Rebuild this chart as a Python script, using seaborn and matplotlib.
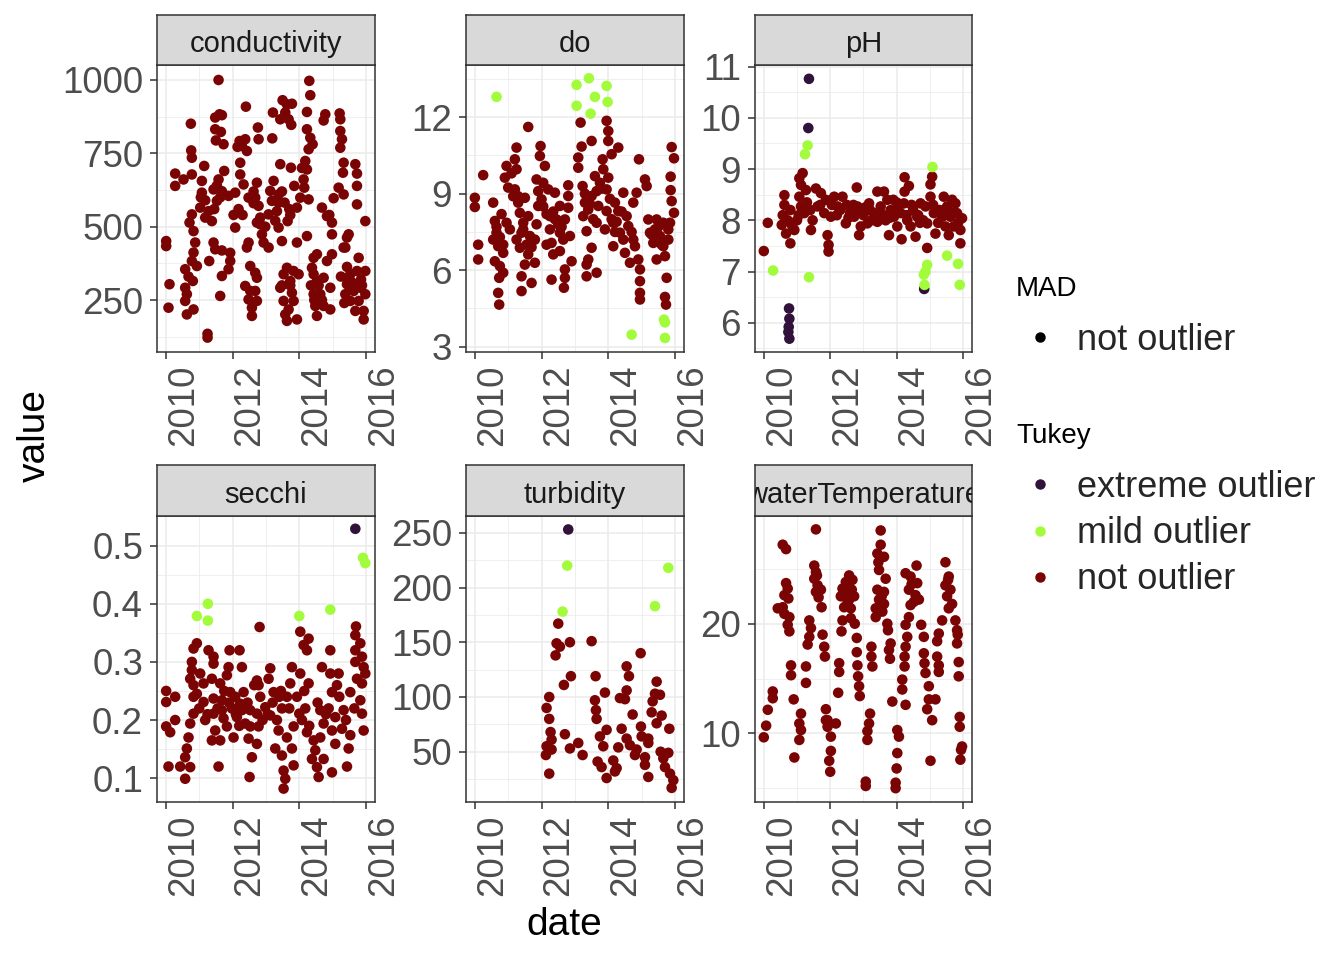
import matplotlib
matplotlib.use("Agg")
import matplotlib.pyplot as plt
import numpy as np
import pandas as pd
import seaborn as sns
from matplotlib.lines import Line2D

sns.set_style("white")
plt.rcParams["font.family"] = ["Liberation Sans", "DejaVu Sans"]

# ---------------- data ----------------
tukey_levels = ["extreme outlier", "mild outlier", "not outlier"]
tukey_colors = ["#30123B", "#A2FC3C", "#7A0403"]
mad_levels = ["not outlier"]
x_ticks = [2010, 2012, 2014, 2016]
x_minor = [2011, 2013, 2015]

cond_date = [
    2011.58, 2014.30, 2014.33, 2012.40, 2013.50, 2013.63, 2013.78, 2013.58, 2013.43, 2013.68,
    2013.76, 2013.21, 2014.23, 2014.78, 2014.73, 2015.21, 2015.23, 2010.75, 2011.61, 2011.68,
    2011.48, 2011.48, 2011.65, 2011.50, 2011.73, 2012.21, 2012.38, 2012.28, 2012.43, 2012.15,
    2012.76, 2012.78, 2013.19, 2014.23, 2014.33, 2014.40, 2014.28, 2015.23, 2015.28, 2015.23,
    2010.76, 2010.78, 2011.15, 2010.28, 2010.28, 2010.53, 2010.78, 2011.08, 2011.08, 2011.75,
    2011.58, 2011.43, 2011.68, 2011.53, 2011.88, 2012.23, 2012.23, 2012.33, 2012.08, 2012.48,
    2012.73, 2012.68, 2012.78, 2013.23, 2013.13, 2013.18, 2013.38, 2013.56, 2013.33, 2013.08,
    2013.43, 2013.75, 2014.18, 2014.23, 2014.13, 2014.15, 2013.93, 2014.03, 2014.28, 2013.85,
    2012.83, 2012.83, 2012.73, 2013.65, 2013.38, 2013.48, 2012.08, 2015.33, 2015.31, 2015.68,
    2015.73, 2015.73, 2015.73, 2015.18, 2015.33, 2015.03, 2014.68, 2014.83, 2014.98, 2014.98,
    2015.98, 2015.48, 2015.38, 2010.78, 2010.83, 2011.03, 2011.18, 2011.38, 2011.28, 2010.71,
    2010.88, 2010.83, 2010.78, 2010.93, 2010.58, 2011.43, 2011.48, 2011.68, 2011.93, 2011.93,
    2011.88, 2011.68, 2011.30, 2012.48, 2012.43, 2012.88, 2012.93, 2013.08, 2013.93, 2014.23,
    2014.43, 2014.53, 2014.83, 2014.98, 2015.43, 2015.33, 2015.78, 2010.01, 2010.01, 2010.11,
    2010.08, 2010.58, 2010.63, 2010.58, 2010.63, 2010.83, 2010.81, 2011.25, 2011.25, 2011.63,
    2012.53, 2012.68, 2012.73, 2012.38, 2012.53, 2012.68, 2012.48, 2012.73, 2012.58, 2012.58,
    2013.63, 2013.53, 2013.83, 2013.98, 2013.43, 2013.73, 2013.78, 2013.53, 2013.83, 2013.58,
    2013.93, 2013.63, 2013.68, 2014.43, 2014.53, 2014.73, 2014.93, 2014.43, 2014.63, 2014.48,
    2014.73, 2014.93, 2014.53, 2015.43, 2015.53, 2015.73, 2015.98, 2015.43, 2015.63, 2015.83,
    2015.53, 2015.78, 2015.98, 2015.68, 2015.93, 2015.93, 2015.38, 2011.53, 2011.63, 2012.18,
    2012.30, 2013.48, 2013.70, 2014.35, 2014.45, 2015.25, 2015.35, 2011.05, 2011.18, 2011.45,
    2012.03, 2012.63, 2012.98, 2013.28, 2013.73, 2014.08, 2014.90, 2015.58, 2015.88, 2010.68,
    2013.48, 2013.73, 2014.58, 2014.68, 2015.58, 2015.85, 2012.63, 2013.38, 2014.38, 2015.50,
]
cond_value = [
    1000, 997, 948, 909, 931, 917, 919, 889, 866, 866,
    847, 889, 891, 883, 862, 886, 866, 851, 883, 880,
    872, 832, 823, 794, 781, 792, 798, 775, 758, 772,
    838, 798, 801, 832, 803, 781, 764, 826, 798, 769,
    760, 735, 707, 681, 639, 661, 678, 656, 616, 690,
    661, 627, 621, 588, 605, 718, 678, 644, 616, 599,
    650, 599, 571, 656, 622, 588, 582, 582, 553, 542,
    713, 701, 724, 695, 661, 633, 565, 599, 593, 639,
    531, 508, 514, 519, 497, 451, 497, 718, 684, 713,
    681, 639, 576, 633, 610, 597, 565, 536, 514, 474,
    519, 474, 429, 542, 485, 565, 531, 519, 553, 514,
    446, 412, 383, 366, 355, 446, 423, 419, 411, 383,
    355, 332, 383, 446, 429, 474, 446, 429, 446, 468,
    394, 406, 383, 406, 463, 429, 394, 451, 434, 304,
    224, 292, 270, 247, 201, 218, 315, 135, 122, 264,
    366, 343, 326, 298, 281, 281, 252, 247, 224, 196,
    360, 338, 349, 338, 292, 315, 275, 247, 247, 201,
    184, 179, 218, 338, 315, 326, 292, 270, 270, 230,
    230, 218, 196, 363, 338, 349, 349, 304, 281, 292,
    247, 247, 270, 213, 213, 184, 270, 640, 600, 560,
    540, 620, 560, 300, 250, 330, 240, 600, 590, 560,
    540, 580, 500, 520, 540, 700, 540, 310, 300, 330,
    300, 300, 300, 250, 290, 320, 620, 610, 360, 320,
]

do_mild_date = [2010.65, 2013.05, 2013.42, 2013.95, 2013.05, 2013.60, 2013.98, 2013.47, 2014.70, 2015.67, 2015.70, 2015.70]
do_mild_value = [12.8, 13.27, 13.53, 13.23, 12.45, 12.8, 12.6, 12.14, 3.47, 4.06, 3.95, 3.34]
do_date = [
    2010.00, 2010.00, 2010.10, 2010.10, 2010.25, 2010.55, 2010.60, 2010.65, 2010.55, 2010.70,
    2010.60, 2010.75, 2010.85, 2010.80, 2010.95, 2011.05, 2010.85, 2010.73, 2010.70, 2010.73,
    2010.95, 2011.20, 2010.90, 2011.25, 2011.00, 2011.20, 2011.25, 2011.30, 2011.50, 2011.35,
    2011.60, 2011.45, 2011.85, 2011.40, 2011.65, 2011.80, 2011.35, 2011.60, 2011.50, 2011.80,
    2011.40, 2011.70, 2011.40, 2011.60, 2011.97, 2011.95, 2012.10, 2011.85, 2012.05, 2011.90,
    2012.20, 2012.00, 2012.40, 2011.90, 2012.25, 2012.55, 2012.45, 2012.70, 2012.80, 2012.80,
    2012.80, 2012.25, 2012.55, 2012.85, 2012.30, 2012.55, 2012.35, 2012.90, 2012.70, 2012.70,
    2012.30, 2012.67, 2013.17, 2013.50, 2013.20, 2013.10, 2013.10, 2013.23, 2013.30, 2013.25,
    2013.40, 2013.60, 2013.65, 2013.50, 2013.70, 2013.65, 2013.35, 2013.50, 2013.40, 2013.35,
    2013.35, 2013.65, 2013.95, 2013.95, 2014.00, 2014.00, 2014.30, 2014.10, 2013.83, 2013.85,
    2014.00, 2013.75, 2013.95, 2014.20, 2014.45, 2014.30, 2014.55, 2014.15, 2014.60, 2014.35,
    2014.15, 2014.75, 2014.50, 2014.80, 2014.65, 2014.90, 2014.95, 2014.95, 2014.95, 2014.95,
    2014.92, 2015.10, 2015.15, 2014.85, 2014.75, 2015.20, 2015.45, 2015.65, 2015.25, 2015.55,
    2015.80, 2015.35, 2015.65, 2015.45, 2015.70, 2015.75, 2015.70, 2015.73, 2015.90, 2015.97,
    2015.87, 2015.87, 2015.90, 2015.97, 2015.85, 2010.65, 2010.75, 2010.85, 2011.10, 2011.15,
    2011.25, 2011.45, 2011.55, 2011.70, 2012.05, 2012.15, 2012.35, 2012.40, 2012.50, 2012.60,
    2012.65, 2013.30, 2013.45, 2013.55, 2013.80, 2014.05, 2014.10, 2014.25, 2014.40, 2014.45,
    2014.70, 2015.30, 2015.40, 2015.50, 2015.60, 2015.80, 2014.20, 2012.15, 2011.30, 2013.90,
]
do_value = [
    8.84, 8.48, 7.0, 6.42, 9.73, 8.65, 7.93, 7.47, 7.2, 6.94,
    6.35, 6.16, 5.9, 8.2, 7.86, 7.6, 6.68, 5.7, 5.11, 4.65,
    10.09, 10.35, 9.63, 9.96, 9.24, 9.17, 10.81, 8.65, 8.84, 8.25,
    8.12, 7.86, 7.8, 7.47, 7.34, 7.2, 6.88, 6.62, 6.22, 6.29,
    5.76, 5.5, 5.18, 11.62, 10.87, 10.48, 10.09, 9.56, 9.43, 9.1,
    9.17, 8.78, 9.04, 8.52, 8.12, 8.52, 7.99, 7.99, 8.45, 8.91,
    9.33, 7.6, 7.47, 7.34, 7.07, 6.75, 6.62, 6.35, 6.03, 5.7,
    5.63, 5.31, 11.79, 11.07, 10.85, 10.42, 10.02, 9.3, 8.65, 8.12,
    8.38, 9.69, 9.1, 8.91, 8.52, 7.86, 7.53, 6.88, 6.42, 6.22,
    5.76, 5.9, 8.32, 11.86, 11.46, 11.07, 10.81, 10.55, 10.35, 9.96,
    9.63, 9.43, 9.17, 8.65, 9.04, 8.32, 8.12, 7.86, 7.73, 7.47,
    6.94, 7.2, 6.68, 6.94, 6.29, 6.42, 6.03, 5.57, 5.11, 4.85,
    10.35, 9.56, 9.3, 9.04, 8.65, 7.99, 7.99, 7.86, 7.47, 7.34,
    7.2, 7.07, 6.94, 6.42, 6.55, 5.7, 4.95, 4.65, 10.83, 10.39,
    9.67, 9.14, 8.71, 8.25, 7.86, 7.7, 7.3, 7.0, 9.8, 8.9,
    7.2, 7.6, 7.0, 6.9, 8.5, 8.2, 8.3, 8.0, 7.8, 7.7,
    7.2, 9.0, 8.6, 8.0, 9.2, 8.8, 8.0, 7.9, 8.3, 7.2,
    7.5, 7.4, 7.6, 7.7, 7.0, 7.6, 7.5, 7.0, 8.9, 7.6,
]

ph_extreme_date = [2011.36, 2011.34, 2010.76, 2010.77, 2010.75, 2010.74, 2010.77, 2014.83]
ph_extreme_value = [10.76, 9.8, 6.28, 6.08, 5.92, 5.82, 5.69, 6.66]
ph_mild_date = [2011.32, 2011.24, 2010.28, 2011.36, 2015.08, 2014.92, 2014.87, 2014.82, 2014.84, 2015.52, 2015.85, 2015.90]
ph_mild_value = [9.46, 9.29, 7.02, 6.89, 9.04, 7.13, 7.0, 6.94, 6.74, 7.31, 7.15, 6.74]
ph_date = [
    2010.00, 2010.12, 2010.62, 2010.62, 2010.57, 2010.54, 2010.72, 2010.67, 2010.92, 2010.80,
    2011.17, 2011.07, 2011.12, 2011.27, 2011.07, 2011.12, 2011.22, 2011.47, 2011.42, 2011.57,
    2011.72, 2011.87, 2011.62, 2011.82, 2012.12, 2012.37, 2012.22, 2012.02, 2012.47, 2011.92,
    2011.95, 2011.95, 2012.80, 2012.62, 2012.82, 2012.72, 2012.92, 2012.87, 2013.17, 2013.42,
    2013.62, 2013.72, 2013.32, 2013.52, 2013.82, 2013.12, 2013.42, 2013.67, 2013.92, 2013.77,
    2014.02, 2014.24, 2014.37, 2014.24, 2014.22, 2014.12, 2014.32, 2014.42, 2014.15, 2014.57,
    2014.72, 2014.62, 2015.07, 2015.02, 2015.02, 2014.87, 2015.12, 2014.92, 2015.17, 2014.92,
    2015.42, 2015.67, 2015.52, 2015.77, 2015.37, 2015.62, 2015.82, 2015.97, 2015.47, 2015.72,
    2015.92, 2015.57, 2015.92, 2012.50, 2012.90, 2013.00, 2013.90, 2014.50, 2014.80, 2015.30,
    2011.00, 2010.80, 2011.30, 2012.30, 2012.60, 2013.20, 2013.60, 2014.05, 2014.70, 2015.25,
    2015.70, 2010.85, 2011.05, 2011.40, 2011.70, 2012.05, 2012.20, 2012.55, 2012.70, 2013.05,
    2013.25, 2013.50, 2013.80, 2014.00, 2014.30, 2014.45, 2014.65, 2015.10, 2015.45, 2015.85,
]
ph_value = [
    7.4, 7.95, 8.49, 8.3, 8.1, 7.91, 8.0, 7.74, 7.81, 7.55,
    8.92, 8.82, 8.69, 8.59, 8.46, 8.27, 8.14, 8.0, 7.81, 8.62,
    8.53, 8.4, 8.27, 8.14, 8.46, 8.46, 8.27, 8.07, 7.94, 7.71,
    7.52, 7.39, 8.64, 8.27, 8.27, 8.07, 7.88, 7.71, 8.33, 8.56,
    8.56, 8.4, 8.14, 8.27, 8.2, 7.94, 7.97, 8.0, 8.07, 7.71,
    7.88, 8.84, 8.67, 8.56, 8.33, 8.14, 8.0, 7.88, 7.63, 7.68,
    8.33, 8.07, 8.85, 8.7, 8.46, 8.27, 8.14, 7.94, 7.74, 7.46,
    8.46, 8.4, 8.27, 8.33, 8.07, 8.07, 8.14, 8.04, 7.88, 7.88,
    7.81, 7.71, 7.55, 8.3, 8.2, 8.1, 8.4, 8.2, 8.0, 8.2,
    8.0, 8.2, 8.35, 8.2, 8.15, 8.2, 8.1, 8.2, 7.95, 7.95,
    8.15, 7.9, 8.1, 8.2, 8.3, 8.3, 8.1, 8.05, 8.3, 8.25,
    8.0, 8.15, 8.05, 8.35, 8.1, 8.3, 8.1, 8.3, 8.1, 7.95,
]

secchi_extreme_date = [2015.68]
secchi_extreme_value = [0.529]
secchi_mild_date = [2011.26, 2010.93, 2011.26, 2014.00, 2014.93, 2015.91, 2015.98]
secchi_mild_value = [0.40, 0.379, 0.371, 0.379, 0.39, 0.479, 0.47]
secchi_date = [
    2012.81, 2014.03, 2014.28, 2014.13, 2014.23, 2014.93, 2015.70, 2015.68, 2015.83, 2015.68,
    2015.88, 2015.68, 2015.93, 2015.98, 2015.73, 2015.88, 2010.93, 2010.83, 2010.78, 2010.78,
    2011.03, 2010.73, 2010.83, 2011.28, 2011.43, 2011.43, 2011.91, 2012.21, 2011.88, 2012.28,
    2011.83, 2011.38, 2011.63, 2011.13, 2010.93, 2010.83, 2011.13, 2011.43, 2011.68, 2011.93,
    2012.08, 2012.33, 2012.23, 2011.98, 2011.68, 2011.43, 2010.83, 2010.73, 2011.18, 2011.48,
    2011.73, 2012.13, 2012.38, 2011.83, 2011.63, 2011.38, 2012.03, 2012.28, 2010.68, 2010.01,
    2010.01, 2010.28, 2010.28, 2010.01, 2010.13, 2010.08, 2010.43, 2010.63, 2010.58, 2010.73,
    2010.58, 2011.58, 2012.73, 2012.78, 2013.13, 2013.08, 2012.83, 2013.23, 2012.73, 2012.98,
    2013.13, 2012.53, 2012.53, 2012.78, 2012.48, 2012.73, 2012.58, 2012.51, 2013.33, 2013.63,
    2013.73, 2013.48, 2013.38, 2013.63, 2013.28, 2013.78, 2013.48, 2013.83, 2013.53, 2013.58,
    2013.53, 2013.78, 2014.03, 2014.28, 2013.93, 2014.18, 2014.00, 2013.83, 2014.23, 2014.08,
    2014.43, 2014.48, 2014.38, 2014.73, 2014.53, 2014.58, 2014.98, 2014.68, 2014.93, 2015.18,
    2015.13, 2014.98, 2014.63, 2014.88, 2015.08, 2014.73, 2014.98, 2015.33, 2015.53, 2015.83,
    2015.28, 2015.53, 2015.88, 2015.93, 2015.08, 2015.48, 2015.43, 2014.63, 2011.00, 2011.55,
    2011.90, 2012.10, 2012.45, 2012.90, 2013.20, 2013.45, 2013.70, 2014.15, 2014.55, 2014.80,
    2015.20, 2015.40, 2015.65, 2011.25, 2011.75, 2012.20, 2012.65, 2013.05, 2013.40, 2014.30,
]
secchi_value = [
    0.36, 0.352, 0.34, 0.329, 0.32, 0.32, 0.361, 0.346, 0.332, 0.32,
    0.309, 0.30, 0.291, 0.28, 0.271, 0.263, 0.332, 0.323, 0.30, 0.286,
    0.28, 0.271, 0.26, 0.32, 0.309, 0.297, 0.32, 0.32, 0.291, 0.291,
    0.277, 0.271, 0.263, 0.263, 0.245, 0.24, 0.231, 0.237, 0.234, 0.248,
    0.24, 0.248, 0.228, 0.22, 0.217, 0.211, 0.211, 0.194, 0.20, 0.182,
    0.203, 0.205, 0.194, 0.189, 0.165, 0.165, 0.17, 0.217, 0.17, 0.25,
    0.231, 0.24, 0.20, 0.189, 0.179, 0.12, 0.12, 0.151, 0.136, 0.119,
    0.099, 0.12, 0.268, 0.26, 0.289, 0.271, 0.24, 0.248, 0.211, 0.222,
    0.208, 0.217, 0.189, 0.189, 0.168, 0.159, 0.136, 0.102, 0.20, 0.24,
    0.263, 0.22, 0.182, 0.17, 0.151, 0.151, 0.139, 0.122, 0.113, 0.099,
    0.082, 0.291, 0.28, 0.263, 0.24, 0.22, 0.211, 0.189, 0.179, 0.20,
    0.165, 0.148, 0.133, 0.133, 0.119, 0.102, 0.11, 0.291, 0.28, 0.28,
    0.26, 0.248, 0.217, 0.22, 0.205, 0.194, 0.182, 0.217, 0.248, 0.234,
    0.185, 0.174, 0.211, 0.182, 0.159, 0.151, 0.12, 0.17, 0.22, 0.22,
    0.23, 0.21, 0.23, 0.20, 0.23, 0.25, 0.22, 0.25, 0.23, 0.21,
    0.24, 0.20, 0.22, 0.21, 0.25, 0.19, 0.26, 0.21, 0.24, 0.19,
]

turb_extreme_date = [2012.80]
turb_extreme_value = [253]
turb_mild_date = [2012.77, 2012.63, 2015.80, 2015.40]
turb_mild_value = [220, 178, 218, 183]
turb_date = [
    2012.50, 2012.45, 2012.55, 2012.42, 2012.85, 2013.50, 2014.97, 2014.55, 2014.62, 2012.88,
    2013.62, 2012.67, 2015.45, 2014.55, 2013.90, 2012.23, 2014.35, 2013.60, 2012.15, 2013.63,
    2014.50, 2014.73, 2015.33, 2015.40, 2015.55, 2013.65, 2012.23, 2012.27, 2015.30, 2015.60,
    2014.98, 2015.83, 2014.40, 2015.45, 2012.70, 2013.95, 2013.75, 2015.00, 2015.20, 2014.55,
    2012.30, 2013.85, 2014.65, 2014.85, 2013.10, 2012.85, 2012.15, 2012.30, 2012.13, 2013.23,
    2014.30, 2015.20, 2015.10, 2015.80, 2015.65, 2015.70, 2015.85, 2015.95, 2015.90, 2013.68,
    2013.80, 2014.15, 2014.25, 2013.95, 2014.20, 2015.20, 2012.23, 2015.10, 2015.57, 2014.80,
]
turb_value = [
    167, 149, 146, 138, 150, 151, 140, 128, 119, 119,
    119, 111, 114, 106, 104, 100, 99, 97, 90, 88,
    98, 84, 96, 103, 102, 80, 80, 68, 86, 83,
    73, 71, 71, 76, 66, 70, 64, 64, 62, 62,
    61, 55, 56, 52, 58, 53, 55, 52, 47, 47,
    54, 58, 38, 49, 44, 36, 30, 24, 17, 41,
    36, 42, 35, 26, 32, 27, 30, 45, 50, 47,
]

wt_date = [
    2010.00, 2010.07, 2010.12, 2010.27, 2010.27, 2010.57, 2010.67, 2010.67, 2010.72, 2010.62,
    2010.74, 2010.42, 2010.57, 2010.62, 2010.77, 2010.72, 2010.77, 2010.82, 2010.82, 2010.90,
    2010.92, 2011.12, 2011.07, 2011.12, 2011.07, 2011.27, 2011.27, 2011.37, 2011.42, 2011.37,
    2011.32, 2011.57, 2011.52, 2011.57, 2011.52, 2011.62, 2011.57, 2011.72, 2011.74, 2011.77,
    2011.82, 2011.84, 2011.87, 2011.87, 2011.92, 2012.17, 2011.92, 2012.02, 2012.02, 2011.97,
    2012.00, 2012.27, 2012.27, 2012.24, 2012.57, 2012.47, 2012.67, 2012.37, 2012.57, 2012.72,
    2012.32, 2012.57, 2012.42, 2012.62, 2012.37, 2012.62, 2012.74, 2012.34, 2012.80, 2012.80,
    2012.82, 2012.84, 2012.87, 2012.89, 2013.07, 2013.07, 2013.12, 2013.12, 2013.17, 2013.20,
    2013.24, 2013.24, 2013.27, 2013.52, 2013.52, 2013.42, 2013.62, 2013.47, 2013.67, 2013.42,
    2013.62, 2013.47, 2013.62, 2013.37, 2013.57, 2013.37, 2013.72, 2013.74, 2013.82, 2013.77,
    2013.80, 2013.87, 2014.02, 2014.07, 2014.02, 2014.00, 2013.97, 2013.97, 2014.17, 2014.17,
    2014.27, 2014.27, 2014.60, 2014.42, 2014.62, 2014.37, 2014.57, 2014.42, 2014.67, 2014.37,
    2014.27, 2014.32, 2014.27, 2014.24, 2014.24, 2014.74, 2014.82, 2014.82, 2014.84, 2014.87,
    2014.97, 2014.97, 2015.17, 2015.07, 2014.92, 2015.02, 2015.22, 2015.27, 2015.27, 2015.22,
    2015.27, 2015.37, 2015.47, 2015.57, 2015.47, 2015.62, 2015.52, 2015.67, 2015.57, 2015.77,
    2015.82, 2015.84, 2015.82, 2015.87, 2015.87, 2015.90, 2015.90, 2015.97, 2015.94, 2015.92,
    2011.60, 2011.65, 2012.45, 2012.52, 2012.65, 2013.45, 2013.55, 2014.45, 2014.52, 2015.55,
]
wt_value = [
    9.64, 10.7, 12.15, 13.82, 13.2, 27.2, 26.8, 23.7, 23.2, 22.6,
    22.3, 21.4, 21.5, 20.9, 20.6, 19.9, 19.3, 16.2, 15.3, 13.1,
    7.8, 11.8, 10.9, 10.3, 9.4, 16.1, 14.6, 20.3, 19.6, 18.8,
    18.1, 28.6, 25.3, 24.7, 24.1, 23.5, 22.9, 23.1, 21.5, 19.0,
    17.9, 17.0, 12.2, 11.2, 11.2, 10.9, 10.6, 9.7, 8.4, 7.5,
    6.5, 16.4, 15.6, 13.7, 24.4, 23.8, 24.0, 23.2, 23.2, 22.5,
    22.5, 22.2, 21.5, 21.4, 20.3, 20.5, 20.0, 19.3, 18.7, 17.4,
    16.2, 15.2, 14.3, 13.4, 5.6, 5.2, 9.4, 10.2, 10.9, 11.8,
    17.9, 17.0, 16.1, 28.5, 27.2, 26.4, 26.1, 24.9, 24.1, 23.1,
    22.9, 22.2, 21.8, 21.4, 21.1, 20.6, 20.0, 19.4, 18.2, 17.6,
    16.8, 12.9, 10.3, 9.7, 8.2, 6.8, 5.5, 5.0, 14.9, 14.0,
    12.6, 24.6, 25.3, 24.3, 23.7, 23.1, 22.6, 21.7, 22.2, 20.6,
    19.9, 18.8, 17.9, 17.0, 16.1, 19.9, 18.8, 17.3, 16.4, 15.5,
    14.3, 13.1, 13.1, 11.2, 12.2, 7.5, 17.0, 16.2, 15.6, 18.4,
    19.1, 20.3, 25.6, 24.3, 23.5, 23.1, 22.5, 21.8, 21.4, 20.3,
    19.4, 19.0, 18.2, 16.5, 15.2, 11.5, 10.6, 8.8, 8.5, 7.6,
    24.4, 22.4, 22.8, 21.9, 23.1, 25.6, 22.5, 23.6, 22.0, 24.0,
]

# ---------------- layout / styling ----------------
W, H = 1344, 960
fig = plt.figure(figsize=(W / 100, H / 100), dpi=100)
palette = dict(zip(tukey_levels, tukey_colors))
GRID = "#EBEBEB"
DARK = "#333333"


def make_df(groups):
    parts = []
    for d, v, lvl in groups:
        parts.append(pd.DataFrame({"date": d, "value": v, "Tukey": lvl, "MAD": mad_levels[0]}))
    return pd.concat(parts, ignore_index=True)


panels = [
    ("conductivity", make_df([(cond_date, cond_value, "not outlier")]),
     (157, 375, 15, 65, 352), (73, 1051), [250, 500, 750, 1000], [125, 375, 625, 875]),
    ("do", make_df([(do_date, do_value, "not outlier"), (do_mild_date, do_mild_value, "mild outlier")]),
     (466, 684, 15, 65, 352), (2.79, 14.05), [3, 6, 9, 12], [4.5, 7.5, 10.5, 13.5]),
    ("pH", make_df([(ph_date, ph_value, "not outlier"), (ph_extreme_date, ph_extreme_value, "extreme outlier"),
                    (ph_mild_date, ph_mild_value, "mild outlier")]),
     (755, 972, 15, 65, 352), (5.43, 11.03), [6, 7, 8, 9, 10, 11], [5.5, 6.5, 7.5, 8.5, 9.5, 10.5]),
    ("secchi", make_df([(secchi_date, secchi_value, "not outlier"), (secchi_extreme_date, secchi_extreme_value, "extreme outlier"),
                        (secchi_mild_date, secchi_mild_value, "mild outlier")]),
     (157, 375, 465, 516, 802), (0.059, 0.551), [0.1, 0.2, 0.3, 0.4, 0.5], [0.15, 0.25, 0.35, 0.45]),
    ("turbidity", make_df([(turb_date, turb_value, "not outlier"), (turb_extreme_date, turb_extreme_value, "extreme outlier"),
                           (turb_mild_date, turb_mild_value, "mild outlier")]),
     (466, 684, 465, 516, 802), (4.1, 265.3), [50, 100, 150, 200, 250], [25, 75, 125, 175, 225]),
    ("waterTemperature", make_df([(wt_date, wt_value, "not outlier")]),
     (755, 972, 465, 516, 802), (3.74, 29.82), [10, 20], [5, 15, 25]),
]

for name, df, (l, r, st, t, b), ylim, yt, ym in panels:
    ax = fig.add_axes([l / W, 1 - b / H, (r - l) / W, (b - t) / H])
    ax.set_facecolor("white")
    sns.scatterplot(data=df, x="date", y="value", hue="Tukey", hue_order=tukey_levels,
                    palette=palette, s=58, linewidth=0, legend=False, ax=ax, zorder=3)
    ax.set_xlim(2009.735, 2016.27)
    ax.set_ylim(*ylim)
    ax.set_xticks(x_ticks)
    ax.set_xticks(x_minor, minor=True)
    ax.set_yticks(yt)
    ax.set_yticks(ym, minor=True)
    ax.set_yticklabels([f"{v:g}" for v in yt])
    ax.set_xticklabels([str(v) for v in x_ticks])
    ax.grid(which="major", color=GRID, linewidth=1.1, zorder=0)
    ax.grid(which="minor", color=GRID, linewidth=0.55, zorder=0)
    ax.set_axisbelow(True)
    ax.set_xlabel("")
    ax.set_ylabel("")
    for sp in ax.spines.values():
        sp.set_color(DARK)
        sp.set_linewidth(1.1)
        sp.set_visible(True)
    ax.tick_params(which="major", length=5, width=1.1, color=DARK, labelsize=26.5,
                   labelcolor="#4D4D4D", left=True, bottom=True)
    ax.tick_params(axis="y", pad=5)
    ax.tick_params(axis="x", pad=4)
    ax.tick_params(which="minor", length=0)
    for lab in ax.get_xticklabels():
        lab.set_rotation(90)
        lab.set_ha("left")
        lab.set_va("top")
    # strip
    sax = fig.add_axes([l / W, 1 - t / H, (r - l) / W, (t - st) / H])
    sax.set_facecolor("#D9D9D9")
    sax.set_xticks([])
    sax.set_yticks([])
    for sp in sax.spines.values():
        sp.set_color(DARK)
        sp.set_linewidth(1.1)
    sax.text(0.5, 0.42, name, ha="center", va="center", fontsize=21, color="#1A1A1A",
             transform=sax.transAxes, clip_on=True)

fig.text(35 / W, 1 - 435 / H, "value", rotation=90, ha="center", va="center", fontsize=28, color="black")
fig.text(564 / W, 1 - 925 / H, "date", ha="center", va="center", fontsize=28, color="black")

# legends (titles as text, keys as legend entries)
fig.text(1016 / W, 1 - 296 / H, "MAD", ha="left", va="baseline", fontsize=20, color="black")
fig.text(1016 / W, 1 - 443 / H, "Tukey", ha="left", va="baseline", fontsize=20, color="black")
mad_handles = [Line2D([], [], marker="o", linestyle="", color="black", markersize=6.5)]
fig.legend(mad_handles, mad_levels, loc="upper left",
           bbox_to_anchor=(1015 / W, 1 - 323 / H), frameon=False, fontsize=26,
           borderpad=0, borderaxespad=0, handlelength=1.36, handletextpad=0.37,
           labelspacing=0.31)
tk_handles = [Line2D([], [], marker="o", linestyle="", color=c, markersize=6.5) for c in tukey_colors]
fig.legend(tk_handles, tukey_levels, loc="upper left",
           bbox_to_anchor=(1015 / W, 1 - 470 / H), frameon=False, fontsize=26,
           borderpad=0, borderaxespad=0, handlelength=1.36, handletextpad=0.37,
           labelspacing=0.31)

fig.savefig("out.png", dpi=100, facecolor="white")
